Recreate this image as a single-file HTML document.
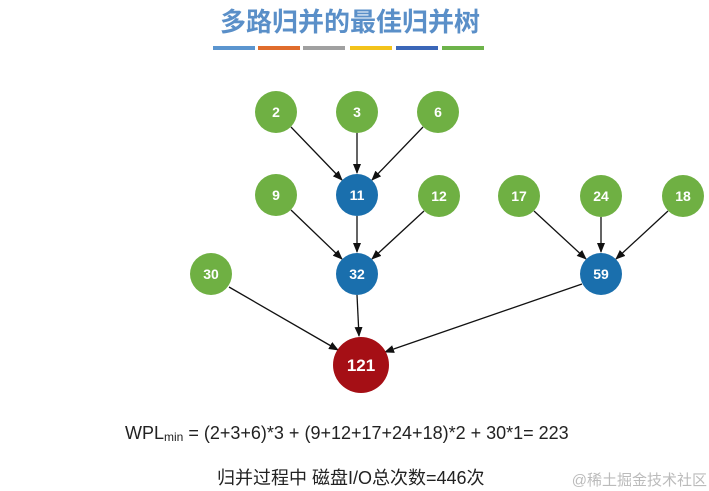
<!DOCTYPE html>
<html><head><meta charset="utf-8"><style>
body{margin:0;background:#fff;width:709px;height:491px;overflow:hidden;font-family:"Liberation Sans","Noto Sans CJK SC",sans-serif}
</style></head><body>
<svg width="709" height="491" xmlns="http://www.w3.org/2000/svg" style="position:absolute;left:0;top:0">
<defs><marker id="a" markerWidth="10" markerHeight="8" refX="9" refY="4" orient="auto" markerUnits="userSpaceOnUse"><path d="M0,0 L10,4 L0,8 z" fill="#111"/></marker></defs>
<text x="350" y="31" text-anchor="middle" font-size="26" font-weight="bold" fill="#5a8fc8" font-family="Liberation Sans,Noto Sans CJK SC,sans-serif">多路归并的最佳归并树</text>
<g>
<rect x="213" y="46" width="42" height="4" fill="#5b95cf"/>
<rect x="258" y="46" width="42" height="4" fill="#e06c2c"/>
<rect x="303" y="46" width="42" height="4" fill="#a0a0a0"/>
<rect x="350" y="46" width="42" height="4" fill="#f3c31a"/>
<rect x="396" y="46" width="42" height="4" fill="#3a66b8"/>
<rect x="442" y="46" width="42" height="4" fill="#6db34a"/>
</g>
<g stroke="#111" stroke-width="1.3" marker-end="url(#a)">
<line x1="291" y1="127" x2="342" y2="180"/>
<line x1="357" y1="133" x2="357" y2="173"/>
<line x1="423" y1="127" x2="372" y2="180"/>
<line x1="291" y1="210" x2="342" y2="259"/>
<line x1="357" y1="216" x2="357" y2="252"/>
<line x1="424" y1="211" x2="372" y2="259"/>
<line x1="534" y1="211" x2="586" y2="259"/>
<line x1="601" y1="217" x2="601" y2="252"/>
<line x1="668" y1="211" x2="616" y2="259"/>
<line x1="229" y1="287" x2="338" y2="350"/>
<line x1="357" y1="295" x2="359" y2="336"/>
<line x1="582" y1="284" x2="385" y2="352"/>
</g>
<g font-size="14" font-weight="bold" fill="#fff" text-anchor="middle" font-family="Liberation Sans,sans-serif">
<circle cx="276" cy="112" r="21" fill="#6fb043"/><text x="276" y="117">2</text>
<circle cx="357" cy="112" r="21" fill="#6fb043"/><text x="357" y="117">3</text>
<circle cx="438" cy="112" r="21" fill="#6fb043"/><text x="438" y="117">6</text>
<circle cx="276" cy="195" r="21" fill="#6fb043"/><text x="276" y="200">9</text>
<circle cx="357" cy="195" r="21" fill="#1a6fad"/><text x="357" y="200">11</text>
<circle cx="439" cy="196" r="21" fill="#6fb043"/><text x="439" y="201">12</text>
<circle cx="519" cy="196" r="21" fill="#6fb043"/><text x="519" y="201">17</text>
<circle cx="601" cy="196" r="21" fill="#6fb043"/><text x="601" y="201">24</text>
<circle cx="683" cy="196" r="21" fill="#6fb043"/><text x="683" y="201">18</text>
<circle cx="211" cy="274" r="21" fill="#6fb043"/><text x="211" y="279">30</text>
<circle cx="357" cy="274" r="21" fill="#1a6fad"/><text x="357" y="279">32</text>
<circle cx="601" cy="274" r="21" fill="#1a6fad"/><text x="601" y="279">59</text>
<circle cx="361" cy="365" r="28" fill="#a50f15"/><text x="361" y="371" font-size="17">121</text>
</g>
<text x="125" y="439" font-size="18" fill="#222" font-family="Liberation Sans,sans-serif">WPL<tspan font-size="12" dy="2">min</tspan><tspan dy="-2"> = (2+3+6)*3 + (9+12+17+24+18)*2 + 30*1= 223</tspan></text>
<text x="217" y="484" font-size="18" fill="#222" font-family="Liberation Sans,Noto Sans CJK SC,sans-serif">归并过程中 磁盘I/O总次数=446次</text>
<text x="707" y="485" text-anchor="end" font-size="15" fill="#bbb" font-family="Liberation Sans,Noto Sans CJK SC,sans-serif">@稀土掘金技术社区</text>
</svg>
</body></html>
